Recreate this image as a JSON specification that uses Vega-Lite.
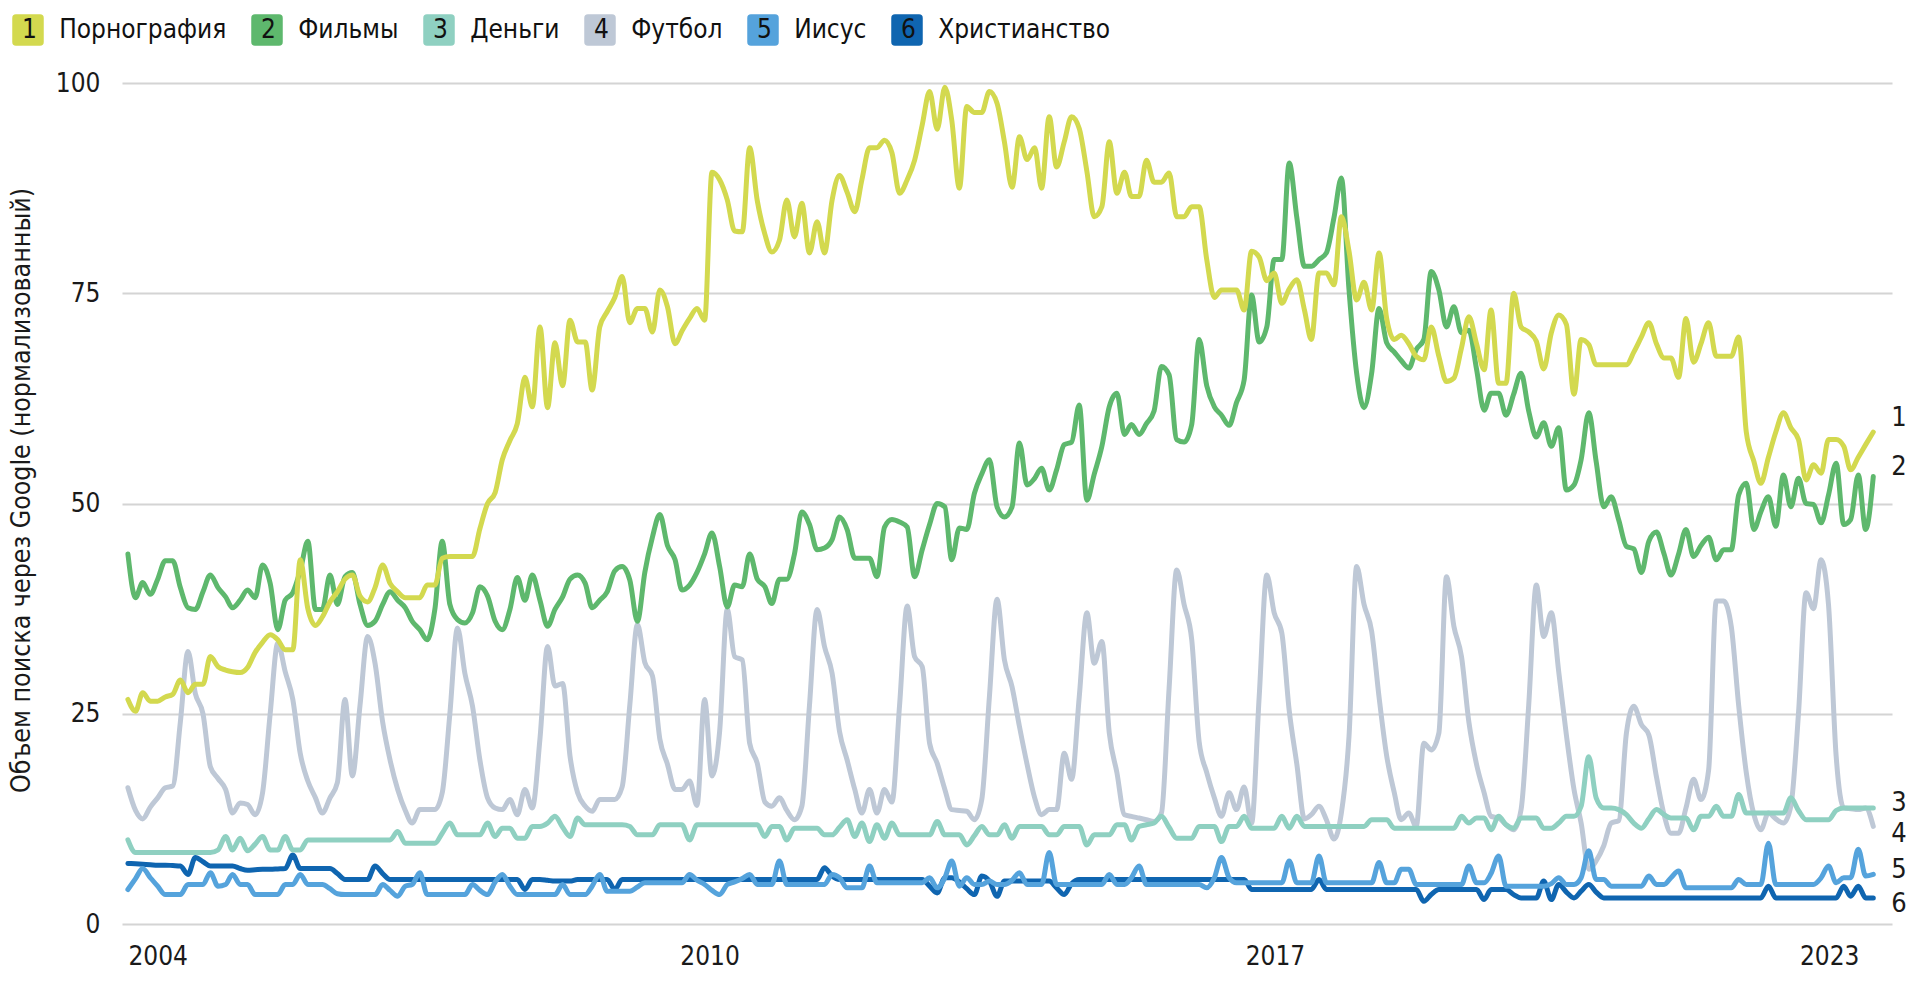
{
  "$schema": "https://vega.github.io/schema/vega-lite/v6.json",
  "autosize": "none",
  "width": 1770,
  "height": 841,
  "padding": {"left": 122, "top": 83, "right": 28, "bottom": 58},
  "background": "white",
  "config": {"font": "DejaVu Sans Condensed, sans-serif", "view": {"stroke": null}},
  "data": {"values": [
{"d":"2004-01-01","1":26.7,"2":44,"3":10,"4":16.2,"5":4.1,"6":7.2},
{"d":"2004-02-01","1":25.3,"2":38.8,"3":8.5,"4":13.5,"5":5.4,"6":7.15},
{"d":"2004-03-01","1":27.5,"2":40.6,"3":8.5,"4":12.5,"5":6.6,"6":7.1},
{"d":"2004-04-01","1":26.5,"2":39.2,"3":8.5,"4":13.9,"5":5.5,"6":7.05},
{"d":"2004-05-01","1":26.5,"2":41,"3":8.5,"4":15,"5":4.5,"6":7},
{"d":"2004-06-01","1":27,"2":43.2,"3":8.5,"4":16.2,"5":3.5,"6":7},
{"d":"2004-07-01","1":27.3,"2":43.2,"3":8.5,"4":16.4,"5":3.5,"6":6.95},
{"d":"2004-08-01","1":29,"2":40,"3":8.5,"4":24,"5":3.5,"6":6.9},
{"d":"2004-09-01","1":27.5,"2":37.6,"3":8.5,"4":32.4,"5":4.7,"6":5.9},
{"d":"2004-10-01","1":28.5,"2":37.4,"3":8.5,"4":27.4,"5":4.7,"6":7.9},
{"d":"2004-11-01","1":28.5,"2":39.5,"3":8.5,"4":25,"5":4.7,"6":7.4},
{"d":"2004-12-01","1":31.8,"2":41.5,"3":8.5,"4":18.7,"5":6.1,"6":6.9},
{"d":"2005-01-01","1":30.6,"2":40,"3":8.8,"4":17.3,"5":4.5,"6":6.9},
{"d":"2005-02-01","1":30.2,"2":38.9,"3":10.4,"4":16,"5":4.7,"6":6.9},
{"d":"2005-03-01","1":30,"2":37.6,"3":8.8,"4":13.2,"5":5.9,"6":6.9},
{"d":"2005-04-01","1":29.9,"2":38.5,"3":10.2,"4":14.4,"5":4.7,"6":6.6},
{"d":"2005-05-01","1":30.5,"2":39.7,"3":8.7,"4":14.2,"5":4.7,"6":6.4},
{"d":"2005-06-01","1":32.3,"2":38.8,"3":9.5,"4":13,"5":3.5,"6":6.45},
{"d":"2005-07-01","1":33.5,"2":42.7,"3":10.4,"4":15.6,"5":3.5,"6":6.5},
{"d":"2005-08-01","1":34.4,"2":40.5,"3":8.8,"4":25,"5":3.5,"6":6.5},
{"d":"2005-09-01","1":33.8,"2":35,"3":8.8,"4":33.4,"5":3.5,"6":6.55},
{"d":"2005-10-01","1":32.6,"2":38.5,"3":10.4,"4":30,"5":4.7,"6":6.6},
{"d":"2005-11-01","1":32.6,"2":39.4,"3":8.8,"4":26.7,"5":4.7,"6":8.2},
{"d":"2005-12-01","1":43.3,"2":42,"3":8.8,"4":20.3,"5":5.9,"6":6.6},
{"d":"2006-01-01","1":37.5,"2":45.5,"3":10,"4":17,"5":4.7,"6":6.6},
{"d":"2006-02-01","1":35.5,"2":37.4,"3":10,"4":15,"5":4.7,"6":6.6},
{"d":"2006-03-01","1":36.5,"2":37.4,"3":10,"4":13.2,"5":4.7,"6":6.6},
{"d":"2006-04-01","1":38.3,"2":41.5,"3":10,"4":15,"5":4.2,"6":6.6},
{"d":"2006-05-01","1":39.5,"2":38,"3":10,"4":16.8,"5":3.6,"6":6},
{"d":"2006-06-01","1":41,"2":41.3,"3":10,"4":26.7,"5":3.5,"6":5.3},
{"d":"2006-07-01","1":41.5,"2":41.8,"3":10,"4":17.6,"5":3.5,"6":5.3},
{"d":"2006-08-01","1":39,"2":38,"3":10,"4":26,"5":3.5,"6":5.3},
{"d":"2006-09-01","1":38.3,"2":35.5,"3":10,"4":34.2,"5":3.5,"6":5.3},
{"d":"2006-10-01","1":40,"2":36,"3":10,"4":31,"5":3.5,"6":6.9},
{"d":"2006-11-01","1":42.7,"2":38,"3":10,"4":24,"5":4.7,"6":6},
{"d":"2006-12-01","1":40.5,"2":39.5,"3":10,"4":19.5,"5":4,"6":5.3},
{"d":"2007-01-01","1":39.5,"2":38.5,"3":11,"4":16,"5":3.3,"6":5.3},
{"d":"2007-02-01","1":38.8,"2":37.6,"3":9.6,"4":13.5,"5":4.5,"6":5.3},
{"d":"2007-03-01","1":38.8,"2":36,"3":9.6,"4":12,"5":4.7,"6":5.3},
{"d":"2007-04-01","1":38.8,"2":35,"3":9.6,"4":13.6,"5":6.1,"6":5.3},
{"d":"2007-05-01","1":40.3,"2":33.8,"3":9.6,"4":13.6,"5":3.5,"6":5.3},
{"d":"2007-06-01","1":40.3,"2":37.4,"3":9.6,"4":13.6,"5":3.5,"6":5.3},
{"d":"2007-07-01","1":43.5,"2":45.5,"3":10.8,"4":15.6,"5":3.5,"6":5.3},
{"d":"2007-08-01","1":43.7,"2":38,"3":12,"4":25,"5":3.5,"6":5.3},
{"d":"2007-09-01","1":43.7,"2":36.2,"3":10.6,"4":35.2,"5":3.5,"6":5.3},
{"d":"2007-10-01","1":43.7,"2":35.8,"3":10.6,"4":29.8,"5":3.5,"6":5.3},
{"d":"2007-11-01","1":43.7,"2":37,"3":10.6,"4":25.9,"5":4.7,"6":5.3},
{"d":"2007-12-01","1":47,"2":40.1,"3":10.6,"4":19.5,"5":4,"6":5.3},
{"d":"2008-01-01","1":50,"2":39,"3":12,"4":15,"5":3.5,"6":5.3},
{"d":"2008-02-01","1":51.3,"2":36,"3":10.4,"4":13.8,"5":5,"6":5.3},
{"d":"2008-03-01","1":55.2,"2":35,"3":11.4,"4":13.6,"5":5.9,"6":5.3},
{"d":"2008-04-01","1":57.5,"2":37.4,"3":11.4,"4":14.8,"5":4.5,"6":5.3},
{"d":"2008-05-01","1":59.5,"2":41.2,"3":10.2,"4":13,"5":3.5,"6":5.3},
{"d":"2008-06-01","1":65,"2":38.5,"3":10.2,"4":16,"5":3.5,"6":4.1},
{"d":"2008-07-01","1":61.5,"2":41.5,"3":11.6,"4":13.8,"5":3.5,"6":5.3},
{"d":"2008-08-01","1":71,"2":38.5,"3":11.6,"4":22,"5":3.5,"6":5.3},
{"d":"2008-09-01","1":61.4,"2":35.4,"3":12,"4":33,"5":3.5,"6":5.2},
{"d":"2008-10-01","1":69.1,"2":37.4,"3":12.8,"4":28.3,"5":3.5,"6":5.1},
{"d":"2008-11-01","1":64,"2":38.9,"3":11.5,"4":28.6,"5":4.7,"6":5.1},
{"d":"2008-12-01","1":71.8,"2":41,"3":10.4,"4":20,"5":3.5,"6":5.1},
{"d":"2009-01-01","1":69.2,"2":41.5,"3":12.6,"4":15.6,"5":3.5,"6":5.3},
{"d":"2009-02-01","1":69.2,"2":40.5,"3":11.8,"4":14,"5":3.5,"6":5.3},
{"d":"2009-03-01","1":63.5,"2":37.6,"3":11.8,"4":13.4,"5":4.5,"6":5.3},
{"d":"2009-04-01","1":71,"2":38.5,"3":11.8,"4":14.8,"5":5.9,"6":5.3},
{"d":"2009-05-01","1":72.8,"2":39.5,"3":11.8,"4":14.8,"5":3.9,"6":5.3},
{"d":"2009-06-01","1":74.5,"2":42,"3":11.8,"4":14.8,"5":3.9,"6":4.1},
{"d":"2009-07-01","1":77,"2":42.5,"3":11.8,"4":16.3,"5":3.9,"6":5.3},
{"d":"2009-08-01","1":71.5,"2":40.9,"3":11.6,"4":26,"5":3.9,"6":5.3},
{"d":"2009-09-01","1":73.2,"2":36,"3":10.6,"4":35.6,"5":4.4,"6":5.3},
{"d":"2009-10-01","1":73.2,"2":41.8,"3":10.6,"4":31.1,"5":4.9,"6":5.3},
{"d":"2009-11-01","1":70.4,"2":46,"3":10.6,"4":29.5,"5":4.9,"6":5.3},
{"d":"2009-12-01","1":75.4,"2":48.7,"3":11.8,"4":22,"5":4.9,"6":5.3},
{"d":"2010-01-01","1":73.4,"2":45,"3":11.8,"4":19,"5":4.9,"6":5.3},
{"d":"2010-02-01","1":69,"2":43.3,"3":11.8,"4":16,"5":4.9,"6":5.3},
{"d":"2010-03-01","1":70.5,"2":39.7,"3":11.8,"4":16,"5":4.9,"6":5.3},
{"d":"2010-04-01","1":72,"2":40.3,"3":10,"4":17,"5":5.9,"6":5.3},
{"d":"2010-05-01","1":73.2,"2":41.8,"3":11.8,"4":14.1,"5":5.2,"6":5.3},
{"d":"2010-06-01","1":71.8,"2":44,"3":11.8,"4":26.7,"5":4.7,"6":5.3},
{"d":"2010-07-01","1":89.4,"2":46.5,"3":11.8,"4":17.6,"5":4,"6":5.3},
{"d":"2010-08-01","1":88.5,"2":42.5,"3":11.8,"4":22.9,"5":3.5,"6":5.3},
{"d":"2010-09-01","1":86.1,"2":37.7,"3":11.8,"4":37.4,"5":4.7,"6":5.3},
{"d":"2010-10-01","1":82.4,"2":40.3,"3":11.8,"4":31.8,"5":5,"6":5.3},
{"d":"2010-11-01","1":82.3,"2":40.1,"3":11.8,"4":31.4,"5":5.4,"6":5.3},
{"d":"2010-12-01","1":92.3,"2":44,"3":11.8,"4":21.5,"5":5.9,"6":5.3},
{"d":"2011-01-01","1":86,"2":41,"3":11.8,"4":19.1,"5":4.7,"6":5.3},
{"d":"2011-02-01","1":82,"2":40.1,"3":10.4,"4":14.5,"5":4.7,"6":5.3},
{"d":"2011-03-01","1":79.9,"2":38.1,"3":11.6,"4":14,"5":4.7,"6":5.3},
{"d":"2011-04-01","1":81.3,"2":41,"3":11.6,"4":15,"5":7.5,"6":5.3},
{"d":"2011-05-01","1":86.1,"2":41,"3":10,"4":13.5,"5":4.7,"6":5.3},
{"d":"2011-06-01","1":81.7,"2":44,"3":11.4,"4":12.4,"5":4.7,"6":5.3},
{"d":"2011-07-01","1":85.7,"2":49,"3":11.4,"4":14,"5":4.7,"6":5.3},
{"d":"2011-08-01","1":79.8,"2":47.5,"3":11.4,"4":26,"5":4.7,"6":5.3},
{"d":"2011-09-01","1":83.5,"2":44.5,"3":11.4,"4":37.4,"5":4.7,"6":5.3},
{"d":"2011-10-01","1":79.8,"2":44.7,"3":10.6,"4":33,"5":4.7,"6":6.7},
{"d":"2011-11-01","1":86.1,"2":45.7,"3":10.6,"4":29.8,"5":5.9,"6":5.7},
{"d":"2011-12-01","1":89,"2":48.4,"3":11.5,"4":22.9,"5":5.5,"6":5.3},
{"d":"2012-01-01","1":87,"2":46.9,"3":12.4,"4":19.5,"5":4.3,"6":5.3},
{"d":"2012-02-01","1":84.7,"2":43.5,"3":10.4,"4":16,"5":4.3,"6":5.3},
{"d":"2012-03-01","1":88.5,"2":43.5,"3":12,"4":13.2,"5":4.3,"6":5.3},
{"d":"2012-04-01","1":92.3,"2":43.5,"3":9.8,"4":16,"5":6.9,"6":5.3},
{"d":"2012-05-01","1":92.3,"2":41.3,"3":11.8,"4":13.2,"5":4.9,"6":5.3},
{"d":"2012-06-01","1":93.2,"2":47.2,"3":10.2,"4":16,"5":4.9,"6":5.3},
{"d":"2012-07-01","1":91.7,"2":48.1,"3":12,"4":14.5,"5":4.9,"6":5.3},
{"d":"2012-08-01","1":86.9,"2":47.8,"3":10.6,"4":26,"5":4.9,"6":5.3},
{"d":"2012-09-01","1":88.5,"2":47.2,"3":10.6,"4":37.8,"5":4.9,"6":5.3},
{"d":"2012-10-01","1":90.8,"2":41.3,"3":10.6,"4":31.8,"5":4.9,"6":5.3},
{"d":"2012-11-01","1":95,"2":44.5,"3":10.6,"4":30.6,"5":4.9,"6":5.3},
{"d":"2012-12-01","1":99,"2":47.5,"3":10.6,"4":21.5,"5":5.5,"6":4.5},
{"d":"2013-01-01","1":94.5,"2":50,"3":12.2,"4":19.1,"5":4.3,"6":3.7},
{"d":"2013-02-01","1":99.5,"2":49.6,"3":10.6,"4":16,"5":5.5,"6":5.5},
{"d":"2013-03-01","1":95.6,"2":43.3,"3":10.6,"4":13.6,"5":7.5,"6":5.5},
{"d":"2013-04-01","1":87.5,"2":47.1,"3":10.6,"4":13.5,"5":4.5,"6":5},
{"d":"2013-05-01","1":97.2,"2":46.9,"3":9.4,"4":13.4,"5":5.5,"6":4.2},
{"d":"2013-06-01","1":96.5,"2":51.2,"3":10.5,"4":12.4,"5":4.7,"6":3.5},
{"d":"2013-07-01","1":96.5,"2":53.5,"3":11.6,"4":14.8,"5":4.7,"6":5.7},
{"d":"2013-08-01","1":99,"2":55.2,"3":10.6,"4":27,"5":5.1,"6":5.1},
{"d":"2013-09-01","1":97.6,"2":49.6,"3":10.6,"4":38.6,"5":4.7,"6":3.3},
{"d":"2013-10-01","1":93,"2":48.4,"3":11.8,"4":31.4,"5":4.7,"6":5.1},
{"d":"2013-11-01","1":87.6,"2":49.6,"3":10.2,"4":28.2,"5":5.2,"6":5.1},
{"d":"2013-12-01","1":93.6,"2":57.2,"3":11.6,"4":23.5,"5":6.1,"6":5.1},
{"d":"2014-01-01","1":90.9,"2":52.2,"3":11.6,"4":19,"5":4.7,"6":5.1},
{"d":"2014-02-01","1":92.3,"2":53,"3":11.6,"4":15,"5":4.7,"6":5.1},
{"d":"2014-03-01","1":87.5,"2":54.2,"3":11.6,"4":13,"5":4.7,"6":5.1},
{"d":"2014-04-01","1":96,"2":51.6,"3":10.6,"4":13.6,"5":8.5,"6":5.1},
{"d":"2014-05-01","1":90,"2":54,"3":10.6,"4":13.6,"5":4.7,"6":4.3},
{"d":"2014-06-01","1":93,"2":57,"3":11.6,"4":20.3,"5":4.7,"6":3.5},
{"d":"2014-07-01","1":96,"2":57.3,"3":11.6,"4":17.2,"5":4.7,"6":4.8},
{"d":"2014-08-01","1":94.6,"2":61.7,"3":11.6,"4":27,"5":4.7,"6":5.3},
{"d":"2014-09-01","1":89.5,"2":50.4,"3":9.4,"4":37,"5":4.7,"6":5.3},
{"d":"2014-10-01","1":84.1,"2":53.5,"3":10.6,"4":31,"5":4.7,"6":5.3},
{"d":"2014-11-01","1":85.3,"2":56.8,"3":10.6,"4":33.6,"5":4.7,"6":5.3},
{"d":"2014-12-01","1":93,"2":61.5,"3":10.6,"4":22.7,"5":5.9,"6":5.3},
{"d":"2015-01-01","1":86.9,"2":63.1,"3":11.8,"4":18,"5":4.7,"6":5.3},
{"d":"2015-02-01","1":89.4,"2":58.2,"3":11.8,"4":13,"5":4.7,"6":5.3},
{"d":"2015-03-01","1":86.5,"2":59.4,"3":10,"4":12.8,"5":5.5,"6":5.3},
{"d":"2015-04-01","1":86.5,"2":58.2,"3":11.6,"4":12.6,"5":6.9,"6":5.3},
{"d":"2015-05-01","1":90.8,"2":59.5,"3":11.8,"4":12.4,"5":4.7,"6":5.3},
{"d":"2015-06-01","1":88.2,"2":61,"3":12,"4":12.2,"5":4.7,"6":5.3},
{"d":"2015-07-01","1":88.2,"2":66.3,"3":12.8,"4":13.2,"5":4.7,"6":5.3},
{"d":"2015-08-01","1":89.3,"2":65.3,"3":11.5,"4":28,"5":4.7,"6":5.3},
{"d":"2015-09-01","1":84.1,"2":57.6,"3":10.2,"4":42.1,"5":4.7,"6":5.3},
{"d":"2015-10-01","1":84.1,"2":57.3,"3":10.2,"4":38,"5":4.7,"6":5.3},
{"d":"2015-11-01","1":85.3,"2":59.4,"3":10.2,"4":33.8,"5":4.7,"6":5.3},
{"d":"2015-12-01","1":85.3,"2":69.5,"3":11.6,"4":21.7,"5":4.7,"6":5.3},
{"d":"2016-01-01","1":79,"2":64,"3":11.6,"4":18,"5":4.3,"6":5.3},
{"d":"2016-02-01","1":74.5,"2":61.5,"3":11.6,"4":15,"5":5.5,"6":5.3},
{"d":"2016-03-01","1":75.4,"2":60.5,"3":9.8,"4":12.8,"5":7.9,"6":5.3},
{"d":"2016-04-01","1":75.4,"2":59.3,"3":11.6,"4":15.6,"5":5.5,"6":5.3},
{"d":"2016-05-01","1":75.4,"2":62,"3":11.6,"4":13.6,"5":4.9,"6":5.3},
{"d":"2016-06-01","1":73,"2":64.7,"3":12.8,"4":16.3,"5":4.9,"6":5.3},
{"d":"2016-07-01","1":80,"2":74.8,"3":11.4,"4":12,"5":4.9,"6":4.1},
{"d":"2016-08-01","1":79.3,"2":69.2,"3":11.4,"4":27,"5":4.9,"6":4.1},
{"d":"2016-09-01","1":76.5,"2":71,"3":11.4,"4":41.5,"5":4.9,"6":4.1},
{"d":"2016-10-01","1":77.4,"2":79,"3":11.4,"4":37,"5":4.9,"6":4.1},
{"d":"2016-11-01","1":73.8,"2":79,"3":12.8,"4":34.6,"5":4.9,"6":4.1},
{"d":"2016-12-01","1":75.5,"2":90.5,"3":11.4,"4":25.4,"5":7.5,"6":4.1},
{"d":"2017-01-01","1":76.6,"2":84,"3":12.8,"4":19,"5":4.9,"6":4.1},
{"d":"2017-02-01","1":73,"2":78.2,"3":11.6,"4":12.5,"5":4.9,"6":4.1},
{"d":"2017-03-01","1":69.5,"2":78.2,"3":11.6,"4":13,"5":4.9,"6":4.1},
{"d":"2017-04-01","1":77.4,"2":79,"3":11.6,"4":14,"5":8.1,"6":5.3},
{"d":"2017-05-01","1":77.4,"2":79.8,"3":11.6,"4":12.4,"5":4.9,"6":4.1},
{"d":"2017-06-01","1":76,"2":84,"3":11.6,"4":10.1,"5":4.9,"6":4.1},
{"d":"2017-07-01","1":84.1,"2":88.7,"3":11.6,"4":13.2,"5":4.9,"6":4.1},
{"d":"2017-08-01","1":80,"2":75.4,"3":11.6,"4":22.3,"5":4.9,"6":4.1},
{"d":"2017-09-01","1":74.2,"2":65.5,"3":11.6,"4":42.5,"5":4.9,"6":4.1},
{"d":"2017-10-01","1":76.3,"2":61.4,"3":11.6,"4":38,"5":4.9,"6":4.1},
{"d":"2017-11-01","1":73,"2":65.5,"3":12.4,"4":34.8,"5":4.9,"6":4.1},
{"d":"2017-12-01","1":79.8,"2":73.2,"3":12.4,"4":27,"5":7.3,"6":4.1},
{"d":"2018-01-01","1":72,"2":69.1,"3":12.4,"4":20,"5":4.9,"6":4.1},
{"d":"2018-02-01","1":69.5,"2":68,"3":11.4,"4":15.6,"5":4.9,"6":4.1},
{"d":"2018-03-01","1":70,"2":67,"3":11.4,"4":12.4,"5":6.5,"6":4.1},
{"d":"2018-04-01","1":69,"2":66.1,"3":11.4,"4":13.2,"5":6.5,"6":4.1},
{"d":"2018-05-01","1":67.5,"2":68.3,"3":11.4,"4":11.6,"5":4.7,"6":4.1},
{"d":"2018-06-01","1":67.1,"2":69.5,"3":11.4,"4":21.5,"5":4.7,"6":2.7},
{"d":"2018-07-01","1":71,"2":77.6,"3":11.4,"4":20.7,"5":4.7,"6":3.5},
{"d":"2018-08-01","1":67.5,"2":75.4,"3":11.4,"4":22.7,"5":4.7,"6":4.1},
{"d":"2018-09-01","1":64.5,"2":71,"3":11.4,"4":41.3,"5":4.7,"6":4.1},
{"d":"2018-10-01","1":64.9,"2":73.4,"3":11.4,"4":35.4,"5":4.7,"6":4.1},
{"d":"2018-11-01","1":68.5,"2":70.3,"3":12.8,"4":31.8,"5":4.7,"6":4.1},
{"d":"2018-12-01","1":72.2,"2":70.6,"3":12,"4":24,"5":6.9,"6":4.1},
{"d":"2019-01-01","1":69,"2":66,"3":12.6,"4":19,"5":4.9,"6":4.1},
{"d":"2019-02-01","1":65.9,"2":61.1,"3":12.6,"4":15.6,"5":4.9,"6":2.9},
{"d":"2019-03-01","1":73,"2":63.1,"3":11.2,"4":12.8,"5":6,"6":4.1},
{"d":"2019-04-01","1":64.3,"2":63.1,"3":12.8,"4":12.6,"5":8.1,"6":4.1},
{"d":"2019-05-01","1":64.3,"2":60.5,"3":11.8,"4":11.8,"5":4.5,"6":4.1},
{"d":"2019-06-01","1":75,"2":63,"3":11.4,"4":11.2,"5":4.5,"6":3.5},
{"d":"2019-07-01","1":71,"2":65.5,"3":12.6,"4":13.6,"5":4.5,"6":3.1},
{"d":"2019-08-01","1":70.4,"2":61,"3":12.6,"4":26,"5":4.5,"6":3.1},
{"d":"2019-09-01","1":69.3,"2":57.9,"3":12.6,"4":40.3,"5":4.5,"6":3.1},
{"d":"2019-10-01","1":66,"2":59.6,"3":11.4,"4":34.2,"5":4.5,"6":5.1},
{"d":"2019-11-01","1":70.3,"2":56.8,"3":11.4,"4":37,"5":4.8,"6":2.9},
{"d":"2019-12-01","1":72.4,"2":59,"3":12,"4":30,"5":5.5,"6":4.7},
{"d":"2020-01-01","1":71.3,"2":51.6,"3":12.8,"4":22.5,"5":4.7,"6":3.8},
{"d":"2020-02-01","1":63,"2":52.2,"3":12.8,"4":16,"5":4.7,"6":3.1},
{"d":"2020-03-01","1":69.5,"2":55.2,"3":14,"4":12,"5":5.5,"6":3.9},
{"d":"2020-04-01","1":68.9,"2":60.8,"3":19.9,"4":6.5,"5":8.7,"6":4.7},
{"d":"2020-05-01","1":66.5,"2":55,"3":15,"4":7.5,"5":5.3,"6":3.8},
{"d":"2020-06-01","1":66.5,"2":49.6,"3":13.8,"4":9.3,"5":5.3,"6":3.1},
{"d":"2020-07-01","1":66.5,"2":50.8,"3":13.8,"4":12,"5":4.5,"6":3.1},
{"d":"2020-08-01","1":66.5,"2":48,"3":13.6,"4":12.3,"5":4.5,"6":3.1},
{"d":"2020-09-01","1":66.5,"2":44.9,"3":13,"4":22.7,"5":4.5,"6":3.1},
{"d":"2020-10-01","1":68,"2":44.6,"3":12,"4":25.9,"5":4.5,"6":3.1},
{"d":"2020-11-01","1":69.8,"2":41.8,"3":11.4,"4":23.7,"5":4.5,"6":3.1},
{"d":"2020-12-01","1":71.5,"2":45.5,"3":12.5,"4":22.5,"5":5.7,"6":3.1},
{"d":"2021-01-01","1":69,"2":46.6,"3":13.6,"4":17.5,"5":4.7,"6":3.1},
{"d":"2021-02-01","1":67.3,"2":44,"3":13,"4":13,"5":4.7,"6":3.1},
{"d":"2021-03-01","1":67.3,"2":41.5,"3":12.6,"4":10.8,"5":5.5,"6":3.1},
{"d":"2021-04-01","1":65,"2":44,"3":12.6,"4":10.8,"5":6.3,"6":3.1},
{"d":"2021-05-01","1":72,"2":46.9,"3":12.6,"4":13.8,"5":4.3,"6":3.1},
{"d":"2021-06-01","1":66.8,"2":43.7,"3":11.2,"4":17.2,"5":4.3,"6":3.1},
{"d":"2021-07-01","1":69,"2":45,"3":12.8,"4":14.8,"5":4.3,"6":3.1},
{"d":"2021-08-01","1":71.5,"2":46,"3":12.8,"4":18.3,"5":4.3,"6":3.1},
{"d":"2021-09-01","1":67.5,"2":43.3,"3":14,"4":38.4,"5":4.3,"6":3.1},
{"d":"2021-10-01","1":67.5,"2":44.5,"3":12.8,"4":38.4,"5":4.3,"6":3.1},
{"d":"2021-11-01","1":67.5,"2":44.5,"3":12.8,"4":35.4,"5":4.3,"6":3.1},
{"d":"2021-12-01","1":69.8,"2":51,"3":15.4,"4":26,"5":5.3,"6":3.1},
{"d":"2022-01-01","1":58.5,"2":52.4,"3":13.2,"4":18,"5":4.7,"6":3.1},
{"d":"2022-02-01","1":55,"2":46.9,"3":13.2,"4":13,"5":4.7,"6":3.1},
{"d":"2022-03-01","1":52.4,"2":49,"3":13.2,"4":11.2,"5":4.7,"6":3.1},
{"d":"2022-04-01","1":55.5,"2":50.8,"3":13.2,"4":13.2,"5":9.6,"6":4.5},
{"d":"2022-05-01","1":58.5,"2":47.3,"3":13.2,"4":12.5,"5":4.7,"6":3.1},
{"d":"2022-06-01","1":60.8,"2":53.4,"3":13.2,"4":12,"5":4.7,"6":3.1},
{"d":"2022-07-01","1":59,"2":49.6,"3":15,"4":14,"5":4.7,"6":3.1},
{"d":"2022-08-01","1":57.6,"2":53,"3":13.5,"4":25,"5":4.7,"6":3.1},
{"d":"2022-09-01","1":52.8,"2":50,"3":12.4,"4":39.4,"5":4.7,"6":3.1},
{"d":"2022-10-01","1":54.6,"2":49.9,"3":12.4,"4":37.5,"5":4.7,"6":3.1},
{"d":"2022-11-01","1":53.6,"2":47.7,"3":12.4,"4":43.3,"5":5.5,"6":3.1},
{"d":"2022-12-01","1":57.6,"2":51,"3":12.4,"4":38,"5":6.9,"6":3.1},
{"d":"2023-01-01","1":57.6,"2":54.8,"3":13.5,"4":20,"5":4.9,"6":3.1},
{"d":"2023-02-01","1":56.8,"2":47.5,"3":13.8,"4":13.8,"5":5.5,"6":4.5},
{"d":"2023-03-01","1":54,"2":48.1,"3":13.8,"4":13.7,"5":5.5,"6":3.3},
{"d":"2023-04-01","1":55.5,"2":53.4,"3":13.8,"4":13.6,"5":8.9,"6":4.5},
{"d":"2023-05-01","1":57,"2":46.9,"3":13.8,"4":13.8,"5":5.7,"6":3.1},
{"d":"2023-06-01","1":58.5,"2":53.2,"3":13.8,"4":11.6,"5":5.9,"6":3.1}
  ]},
  "transform": [{"fold": ["4", "6", "5", "3", "2", "1"], "as": ["key", "value"]}],
  "layer": [
    {
      "mark": {"type": "line", "interpolate": "monotone", "strokeWidth": 5, "strokeJoin": "round", "strokeCap": "round"},
      "encoding": {
        "x": {
          "field": "d", "type": "temporal",
          "scale": {"type": "utc", "domain": ["2003-12-08", "2023-08-16"]},
          "axis": {
            "title": null, "grid": false, "domain": false, "ticks": false, "tickSize": 0,
            "values": [
              {"year": 2004, "month": 1, "date": 1, "utc": true},
              {"year": 2010, "month": 6, "date": 21, "utc": true},
              {"year": 2016, "month": 10, "date": 4, "utc": true},
              {"year": 2022, "month": 12, "date": 4, "utc": true}
            ],
            "labelExpr": "{'2004':'2004','2010':'2010','2016':'2017','2022':'2023'}[utcFormat(datum.value, '%Y')]",
            "labelFlush": 12, "labelFontSize": 26, "labelColor": "#1a1a1a", "labelPadding": 19
          }
        },
        "y": {
          "field": "value", "type": "quantitative",
          "scale": {"domain": [0, 100]},
          "axis": {
            "title": "Объем поиска через Google (нормализованный)",
            "values": [0, 25, 50, 75, 100],
            "grid": true, "gridColor": "#d4d4d4", "gridWidth": 2,
            "domain": false, "ticks": false, "tickSize": 0,
            "labelFontSize": 26, "labelColor": "#1a1a1a", "labelPadding": 22,
            "titleFontSize": 26.5, "titleFontWeight": "normal", "titleColor": "#1a1a1a",
            "titleX": -101, "titleY": 407, "titleAngle": -90, "titleBaseline": "middle", "titleAlign": "center"
          }
        },
        "color": {
          "field": "key", "type": "nominal",
          "scale": {"domain": ["1", "2", "3", "4", "5", "6"], "range": ["#d3d94f", "#5eb86d", "#8fd0c1", "#bec8d6", "#55a3dc", "#0f65b0"]},
          "legend": {
            "title": null, "orient": "none", "legendX": -110, "legendY": -69, "direction": "horizontal",
            "padding": 0,
            "symbolType": "M-0.8,-1L0.8,-1Q1,-1,1,-0.8L1,0.8Q1,1,0.8,1L-0.8,1Q-1,1,-1,0.8L-1,-0.8Q-1,-1,-0.8,-1Z",
            "symbolSize": 900, "symbolStrokeWidth": 1.5,
            "labelFontSize": 26, "labelColor": "#111111", "labelOffset": -22, "labelLimit": 500,
            "columnPadding": 22,
            "labelExpr": "datum.label + '\u00a0\u00a0\u00a0' + {'1':'Порнография','2':'Фильмы','3':'Деньги','4':'Футбол','5':'Иисус','6':'Христианство'}[datum.label]",
            "encode": {"symbols": {"update": {"fill": {"scale": "color", "field": "value"}, "fillOpacity": {"value": 1}, "stroke": {"value": "rgba(0,0,0,0.25)"}, "opacity": {"value": 1}}}}
          }
        }
      }
    },
    {
      "transform": [{"filter": "utcyear(datum.d) == 2023 && utcmonth(datum.d) == 5"}],
      "mark": {"type": "text", "align": "left", "baseline": "middle", "dx": 18, "fontSize": 27, "color": "#1a1a1a",
               "dy": {"expr": "{'1':-14,'2':-10,'3':-5,'4':8,'5':-4,'6':6}[datum.key]"}},
      "encoding": {
        "x": {"field": "d", "type": "temporal"},
        "y": {"field": "value", "type": "quantitative"},
        "text": {"field": "key"}
      }
    }
  ]
}
